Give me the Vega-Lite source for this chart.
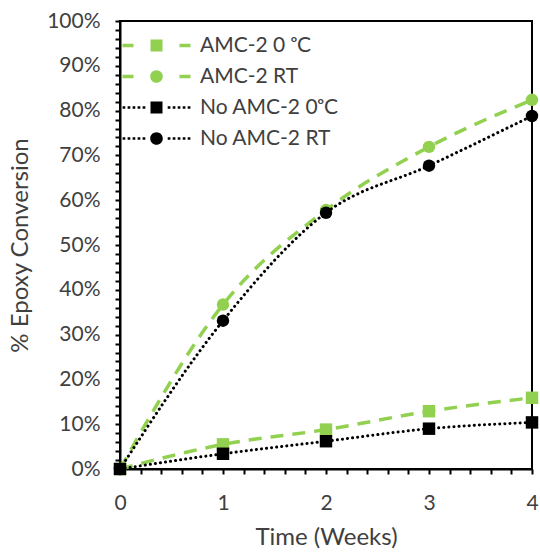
{
  "$schema": "https://vega.github.io/schema/vega-lite/v6.json",
  "width": 412,
  "height": 448,
  "autosize": "none",
  "padding": {"left": 120, "top": 21, "right": 8, "bottom": 87},
  "background": "white",
  "config": {
    "view": {"stroke": "black", "strokeWidth": 2},
    "font": "Lato",
    "axis": {
      "domainColor": "black",
      "domainWidth": 2,
      "grid": false,
      "ticks": true,
      "tickColor": "black",
      "tickOpacity": 1,
      "tickDash": [],
      "tickCap": "butt",
      "tickWidth": 2,
      "tickSize": 5,
      "labelFont": "Lato",
      "labelFontSize": 21,
      "labelColor": "#404040",
      "titleFont": "Lato",
      "titleFontSize": 24,
      "titleFontWeight": "normal",
      "titleColor": "#404040",
      "labelOverlap": false,
      "labelFlush": false
    }
  },
  "data": {
    "values": [
      {"week": 0, "conv": 0.0, "series": "AMC-2 0 ᵒC"},
      {"week": 1, "conv": 0.055, "series": "AMC-2 0 ᵒC"},
      {"week": 2, "conv": 0.088, "series": "AMC-2 0 ᵒC"},
      {"week": 3, "conv": 0.129, "series": "AMC-2 0 ᵒC"},
      {"week": 4, "conv": 0.159, "series": "AMC-2 0 ᵒC"},
      {"week": 0, "conv": 0.0, "series": "AMC-2 RT"},
      {"week": 1, "conv": 0.367, "series": "AMC-2 RT"},
      {"week": 2, "conv": 0.578, "series": "AMC-2 RT"},
      {"week": 3, "conv": 0.719, "series": "AMC-2 RT"},
      {"week": 4, "conv": 0.824, "series": "AMC-2 RT"},
      {"week": 0, "conv": 0.0, "series": "No AMC-2 0ᵒC"},
      {"week": 1, "conv": 0.034, "series": "No AMC-2 0ᵒC"},
      {"week": 2, "conv": 0.062, "series": "No AMC-2 0ᵒC"},
      {"week": 3, "conv": 0.09, "series": "No AMC-2 0ᵒC"},
      {"week": 4, "conv": 0.104, "series": "No AMC-2 0ᵒC"},
      {"week": 0, "conv": 0.0, "series": "No AMC-2 RT"},
      {"week": 1, "conv": 0.331, "series": "No AMC-2 RT"},
      {"week": 2, "conv": 0.572, "series": "No AMC-2 RT"},
      {"week": 3, "conv": 0.677, "series": "No AMC-2 RT"},
      {"week": 4, "conv": 0.788, "series": "No AMC-2 RT"}
    ]
  },
  "encoding": {
    "x": {
      "field": "week",
      "type": "quantitative",
      "title": "Time (Weeks)",
      "scale": {"domain": [0, 4], "nice": false, "zero": false},
      "axis": {
        "values": [0, 0.2, 0.4, 0.6, 0.8, 1, 1.2, 1.4, 1.6, 1.8, 2, 2.2, 2.4, 2.6, 2.8, 3, 3.2, 3.4, 3.6, 3.8, 4],
        "labelExpr": "abs(datum.value - round(datum.value)) < 0.001 ? format(datum.value, 'd') : ''",
        "ticks": true,
        "tickColor": "black",
        "tickOpacity": 1,
        "tickWidth": 2,
        "tickSize": 5,
        "labelPadding": 18,
        "titlePadding": 12
      }
    },
    "y": {
      "field": "conv",
      "type": "quantitative",
      "title": "% Epoxy Conversion",
      "scale": {"domain": [0, 1], "nice": false},
      "axis": {
        "values": [0, 0.02, 0.04, 0.06, 0.08, 0.1, 0.12, 0.14, 0.16, 0.18, 0.2, 0.22, 0.24, 0.26, 0.28, 0.3, 0.32, 0.34, 0.36, 0.38, 0.4, 0.42, 0.44, 0.46, 0.48, 0.5, 0.52, 0.54, 0.56, 0.58, 0.6, 0.62, 0.64, 0.66, 0.68, 0.7, 0.72, 0.74, 0.76, 0.78, 0.8, 0.82, 0.84, 0.86, 0.88, 0.9, 0.92, 0.94, 0.96, 0.98, 1],
        "labelExpr": "abs(datum.value*10 - round(datum.value*10)) < 0.001 ? format(datum.value, '.0%') : ''",
        "ticks": true,
        "tickColor": "black",
        "tickOpacity": 1,
        "tickWidth": 2,
        "tickSize": 5,
        "labelPadding": 15,
        "titlePadding": 14
      }
    }
  },
  "resolve": {"scale": {"shape": "independent", "color": "independent"}},
  "layer": [
    {
      "transform": [{"filter": {"field": "series", "oneOf": ["AMC-2 0 ᵒC", "AMC-2 RT"]}}],
      "mark": {"type": "line", "interpolate": "monotone", "color": "#92D050", "strokeWidth": 3.5, "strokeDash": [13, 9]},
      "encoding": {"detail": {"field": "series"}}
    },
    {
      "transform": [{"filter": {"field": "series", "oneOf": ["AMC-2 0 ᵒC", "AMC-2 RT"]}}],
      "mark": {"type": "point", "filled": true, "size": 155, "opacity": 1},
      "encoding": {
        "color": {"field": "series", "type": "nominal", "legend": null,
          "scale": {"domain": ["AMC-2 0 ᵒC", "AMC-2 RT", "No AMC-2 0ᵒC", "No AMC-2 RT"], "range": ["#92D050", "#92D050", "black", "black"]}},
        "shape": {"field": "series", "type": "nominal", "legend": null,
          "scale": {"domain": ["AMC-2 0 ᵒC", "AMC-2 RT", "No AMC-2 0ᵒC", "No AMC-2 RT"], "range": ["square", "circle", "square", "circle"]}}
      }
    },
    {
      "transform": [{"filter": {"field": "series", "oneOf": ["No AMC-2 0ᵒC", "No AMC-2 RT"]}}],
      "mark": {"type": "line", "interpolate": "monotone", "color": "black", "strokeWidth": 3, "strokeDash": [0.1, 5], "strokeCap": "round"},
      "encoding": {"detail": {"field": "series"}}
    },
    {
      "transform": [{"filter": {"field": "series", "oneOf": ["No AMC-2 0ᵒC", "No AMC-2 RT"]}}],
      "mark": {"type": "point", "filled": true, "size": 155, "opacity": 1},
      "encoding": {
        "color": {"field": "series", "type": "nominal", "legend": null,
          "scale": {"domain": ["AMC-2 0 ᵒC", "AMC-2 RT", "No AMC-2 0ᵒC", "No AMC-2 RT"], "range": ["#92D050", "#92D050", "black", "black"]}},
        "shape": {"field": "series", "type": "nominal", "legend": null,
          "scale": {"domain": ["AMC-2 0 ᵒC", "AMC-2 RT", "No AMC-2 0ᵒC", "No AMC-2 RT"], "range": ["square", "circle", "square", "circle"]}}
      }
    },
    {
      "mark": {"type": "point", "filled": true, "size": 400, "opacity": 0, "strokeWidth": 0},
      "encoding": {
        "color": {"field": "series", "type": "nominal",
          "scale": {"domain": ["AMC-2 0 ᵒC", "AMC-2 RT", "No AMC-2 0ᵒC", "No AMC-2 RT"], "range": ["#92D050", "#92D050", "black", "black"]},
          "legend": {"title": null, "orient": "none", "legendX": 26, "legendY": 14, "labelFont": "Lato", "labelFontSize": 21, "labelColor": "#404040", "symbolSize": 400, "symbolOpacity": 1, "symbolStrokeWidth": 0, "rowPadding": 9, "labelOffset": 33, "padding": 0}},
        "shape": {"field": "series", "type": "nominal",
          "scale": {"domain": ["AMC-2 0 ᵒC", "AMC-2 RT", "No AMC-2 0ᵒC", "No AMC-2 RT"],
            "range": [
              "M-3.4,-0.18H-2.3V0.18H-3.4Z M-0.6,-0.6H0.6V0.6H-0.6Z M2.3,-0.18H3.4V0.18H2.3Z",
              "M-3.4,-0.18H-2.3V0.18H-3.4Z M-0.63,0A0.63,0.63,0,1,1,0.63,0A0.63,0.63,0,1,1,-0.63,0Z M2.3,-0.18H3.4V0.18H2.3Z",
              "M-3.39,-0.135H-3.12V0.135H-3.39Z M-2.89,-0.135H-2.62V0.135H-2.89Z M-2.39,-0.135H-2.12V0.135H-2.39Z M-1.89,-0.135H-1.62V0.135H-1.89Z M-1.39,-0.135H-1.12V0.135H-1.39Z M-0.6,-0.6H0.6V0.6H-0.6Z M1.12,-0.135H1.39V0.135H1.12Z M1.62,-0.135H1.89V0.135H1.62Z M2.12,-0.135H2.39V0.135H2.12Z M2.62,-0.135H2.89V0.135H2.62Z M3.12,-0.135H3.39V0.135H3.12Z",
              "M-3.39,-0.135H-3.12V0.135H-3.39Z M-2.89,-0.135H-2.62V0.135H-2.89Z M-2.39,-0.135H-2.12V0.135H-2.39Z M-1.89,-0.135H-1.62V0.135H-1.89Z M-1.39,-0.135H-1.12V0.135H-1.39Z M-0.63,0A0.63,0.63,0,1,1,0.63,0A0.63,0.63,0,1,1,-0.63,0Z M1.12,-0.135H1.39V0.135H1.12Z M1.62,-0.135H1.89V0.135H1.62Z M2.12,-0.135H2.39V0.135H2.12Z M2.62,-0.135H2.89V0.135H2.62Z M3.12,-0.135H3.39V0.135H3.12Z"
            ]},
          "legend": {"title": null, "orient": "none", "legendX": 26, "legendY": 14, "labelFont": "Lato", "labelFontSize": 21, "labelColor": "#404040", "symbolSize": 400, "symbolOpacity": 1, "symbolStrokeWidth": 0, "rowPadding": 9, "labelOffset": 33, "padding": 0}}
      }
    }
  ]
}
